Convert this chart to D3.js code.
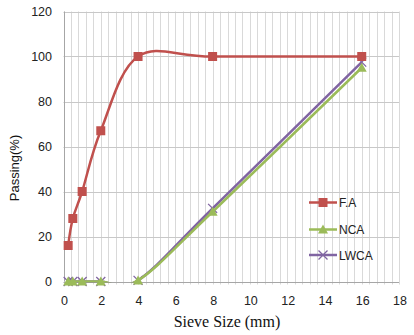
<!DOCTYPE html>
<html>
<head>
<meta charset="utf-8">
<script src="https://cdn.jsdelivr.net/npm/d3@7"></script>
<style>
body { margin: 0; background: #fff; }
svg { display: block; }
</style>
</head>
<body>
<script>
var sieveSizes = [0.25, 0.5, 1, 2, 4, 8, 16];
var faValues = [16, 28, 40, 67, 100, 100, 100];
var ncaValues = [0, 0, 0, 0, 0.5, 31, 95];
var lwcaValues = [0, 0, 0, 0, 0.5, 32.5, 97.5];
var xTicks = [0, 2, 4, 6, 8, 10, 12, 14, 16, 18];
var yTicks = [0, 20, 40, 60, 80, 100, 120];

var series = [
  {name: "F.A", values: faValues, color: "#C0504D", marker: "square"},
  {name: "NCA", values: ncaValues, color: "#9BBB59", marker: "triangle"},
  {name: "LWCA", values: lwcaValues, color: "#8064A2", marker: "cross"}
];

var svg = d3.select("body").append("svg").attr("width", 414).attr("height", 335);

var x = d3.scaleLinear().domain([0, 18]).range([63.5, 399]);
var y = d3.scaleLinear().domain([0, 120]).range([281.5, 11.5]);

// lines are clipped to the plot area, markers are not
svg.append("clipPath").attr("id", "plotclip")
  .append("rect")
  .attr("x", x(0)).attr("y", y(120))
  .attr("width", x(18)-x(0)).attr("height", y(0)-y(120)+1);

// minor vertical gridlines every 0.4
var minor = d3.range(0, 46).map(function(i){ return i*0.4; });
svg.append("g").selectAll("line")
  .data(minor)
  .enter().append("line")
  .attr("x1", function(d){ return Math.round(x(d))+0.5; })
  .attr("x2", function(d){ return Math.round(x(d))+0.5; })
  .attr("y1", y(120)).attr("y2", y(0)+3)
  .attr("stroke", "#D9D9D9").attr("stroke-width", 1);

svg.append("g").selectAll("line")
  .data(yTicks)
  .enter().append("line")
  .attr("x1", x(0)).attr("x2", x(18))
  .attr("y1", function(d){ return Math.round(y(d))+0.5; })
  .attr("y2", function(d){ return Math.round(y(d))+0.5; })
  .attr("stroke", function(d){ return d === 0 ? "#A6A6A6" : "#C8C8C8"; })
  .attr("stroke-width", 1);

// y axis line
svg.append("line")
  .attr("x1", Math.round(x(0))+0.5).attr("x2", Math.round(x(0))+0.5)
  .attr("y1", y(120)).attr("y2", y(0))
  .attr("stroke", "#A6A6A6");

svg.append("g").selectAll("text")
  .data(yTicks)
  .enter().append("text")
  .attr("x", 52)
  .attr("y", function(d){ return y(d)+4.5; })
  .attr("text-anchor", "end")
  .attr("font-family", "Liberation Sans, Arial, sans-serif")
  .attr("font-size", 12.5)
  .attr("fill", "#222")
  .text(function(d){ return d; });

svg.append("g").selectAll("text")
  .data(xTicks)
  .enter().append("text")
  .attr("x", function(d){ return x(d)+1; })
  .attr("y", 305)
  .attr("text-anchor", "middle")
  .attr("font-family", "Liberation Sans, Arial, sans-serif")
  .attr("font-size", 12.5)
  .attr("fill", "#222")
  .text(function(d){ return d; });

svg.append("text")
  .attr("x", 227).attr("y", 327)
  .attr("text-anchor", "middle")
  .attr("font-family", "Liberation Serif, Times New Roman, serif")
  .attr("font-size", 16)
  .attr("fill", "#111")
  .text("Sieve Size (mm)");

svg.append("text")
  .attr("transform", "translate(19,168) rotate(-90)")
  .attr("text-anchor", "middle")
  .attr("font-family", "Liberation Sans, Arial, sans-serif")
  .attr("font-size", 13)
  .attr("fill", "#111")
  .text("Passing(%)");

var line = d3.line()
  .x(function(d){ return x(d[0]); })
  .y(function(d){ return y(d[1]); })
  .curve(d3.curveCardinal.tension(0));

function drawMarker(g, type, color, cx, cy) {
  if (type === "square") {
    g.append("rect").attr("x", cx-4.5).attr("y", cy-4.5)
      .attr("width", 9).attr("height", 9).attr("fill", color);
  } else if (type === "triangle") {
    g.append("path")
      .attr("d", "M" + cx + "," + (cy-5) + "L" + (cx+5) + "," + (cy+4) + "L" + (cx-5) + "," + (cy+4) + "Z")
      .attr("fill", color);
  } else {
    g.append("path")
      .attr("d", "M" + (cx-4.5) + "," + (cy-4.5) + "L" + (cx+4.5) + "," + (cy+4.5) +
                 "M" + (cx+4.5) + "," + (cy-4.5) + "L" + (cx-4.5) + "," + (cy+4.5))
      .attr("stroke", color).attr("stroke-width", 1.3).attr("fill", "none");
  }
}

// draw in reverse so F.A sits on top like the reference
series.slice().reverse().forEach(function(s){
  var pts = sieveSizes.map(function(v, i){ return [v, s.values[i]]; });
  var g = svg.append("g");
  g.append("path")
    .attr("d", line(pts))
    .attr("clip-path", "url(#plotclip)")
    .attr("fill", "none")
    .attr("stroke", s.color)
    .attr("stroke-width", 2.5);
  pts.forEach(function(p){ drawMarker(g, s.marker, s.color, x(p[0]), y(p[1])); });
});

// legend
var legendY = [202.5, 229.5, 255];
series.forEach(function(s, i){
  var g = svg.append("g");
  g.append("line")
    .attr("x1", 309).attr("x2", 337)
    .attr("y1", legendY[i]).attr("y2", legendY[i])
    .attr("stroke", s.color).attr("stroke-width", 2.5);
  drawMarker(g, s.marker, s.color, 323, legendY[i]);
  g.append("text")
    .attr("x", 339).attr("y", legendY[i]+4.5)
    .attr("font-family", "Liberation Sans, Arial, sans-serif")
    .attr("font-size", 12)
    .attr("fill", "#222")
    .text(s.name);
});
</script>
</body>
</html>
